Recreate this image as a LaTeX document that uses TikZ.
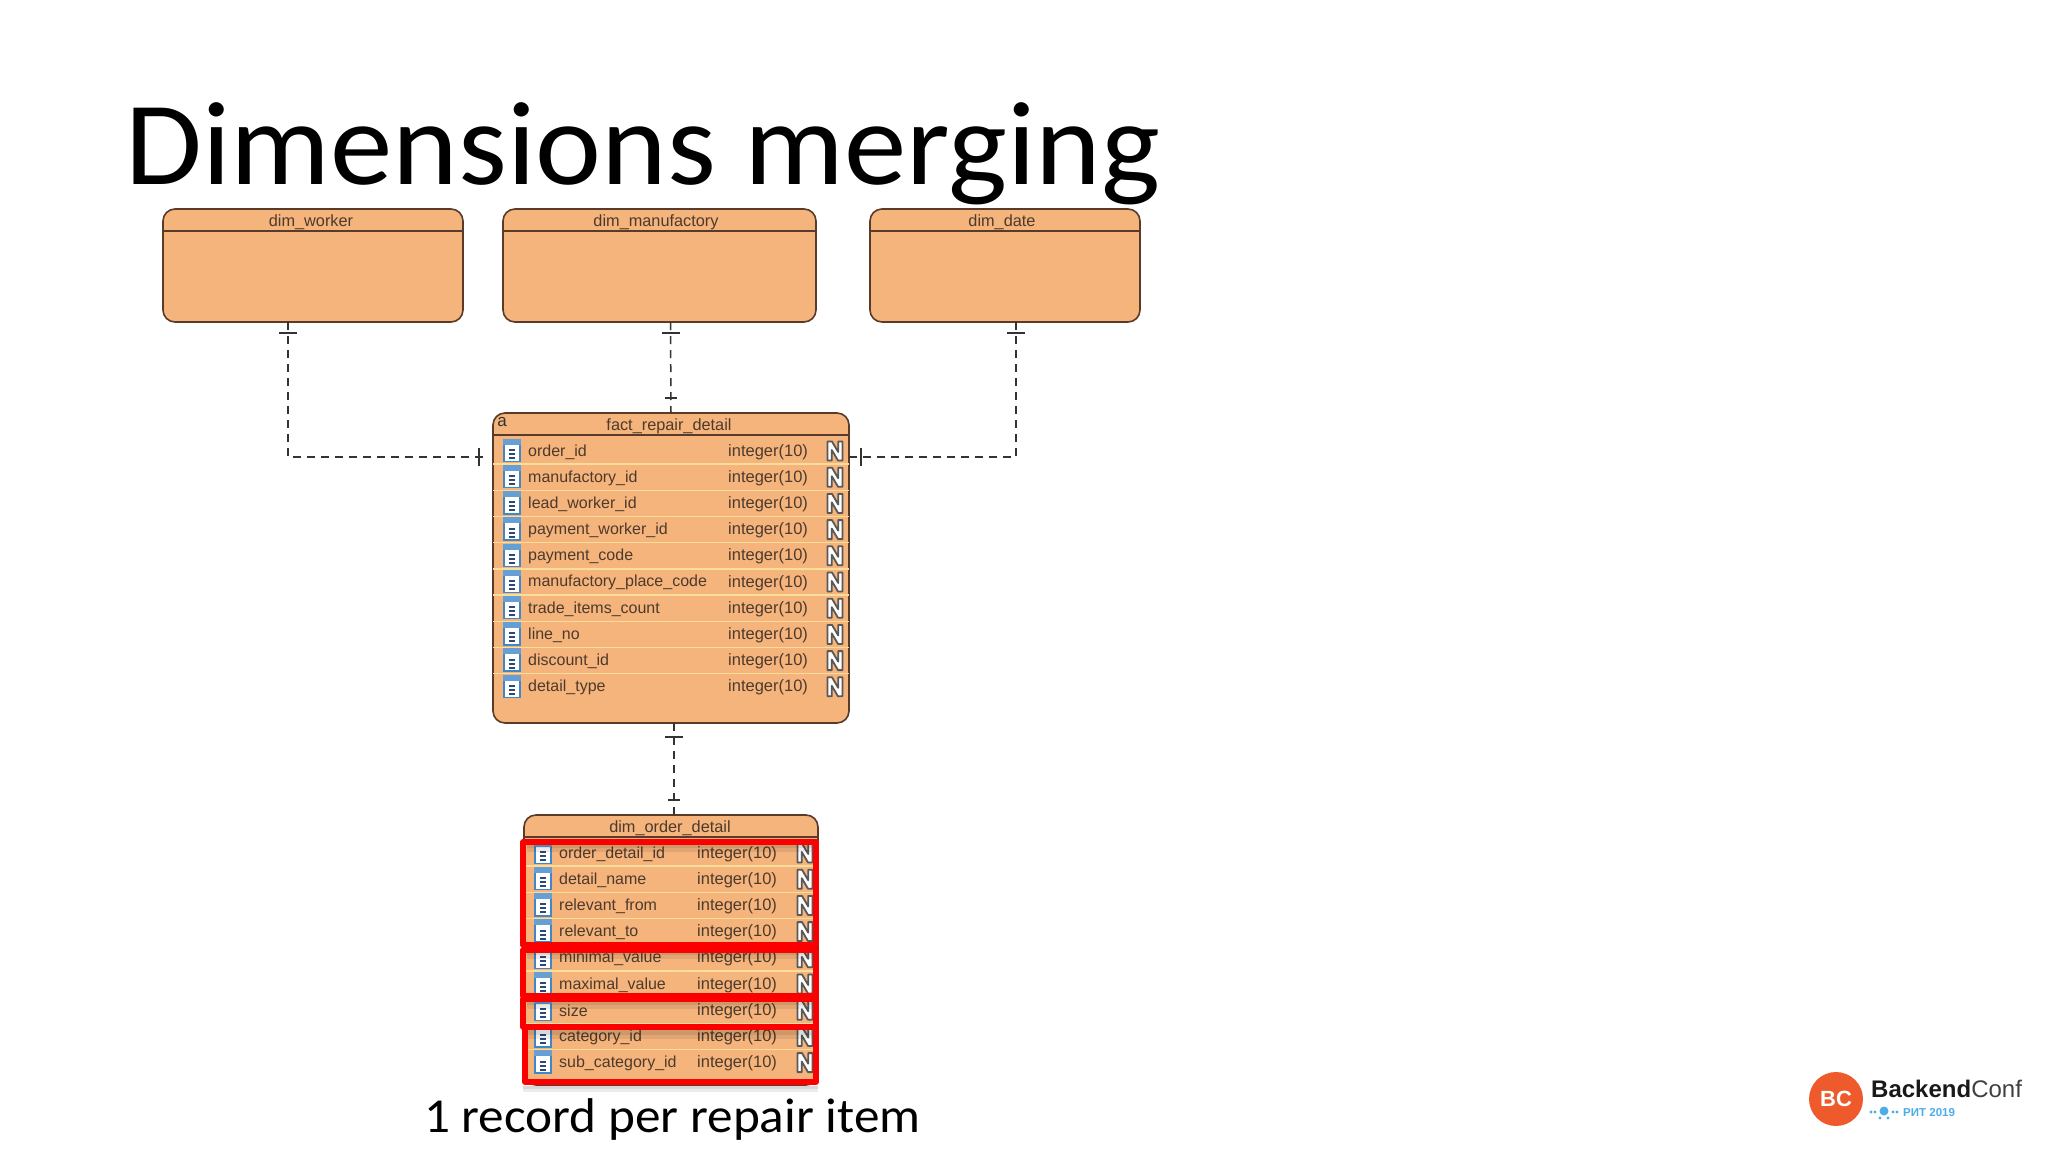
\documentclass[tikz,border=0pt]{standalone}
\usepackage{fontspec}
\setmainfont{Liberation Sans}
\newfontfamily\carl[FakeStretch=1.05]{Carlito}
\definecolor{boxfill}{HTML}{F4B47C}
\definecolor{boxline}{HTML}{5A3B2A}
\definecolor{rowsep}{HTML}{F9DD98}
\definecolor{boxtext}{HTML}{4E3A2C}
\definecolor{iconblue}{HTML}{3F87C9}
\definecolor{iconnavy}{HTML}{2C4A78}
\definecolor{redbox}{HTML}{FA0000}
\definecolor{logored}{HTML}{EE5A2B}
\definecolor{logoblue}{HTML}{4BAEE8}
\tikzset{
  tbl/.style={draw=boxline,fill=boxfill,line width=1.6pt,rounded corners=12pt,inner sep=0pt,outer sep=0pt},
  hdr/.style={font=\fontsize{16.3}{16.3}\selectfont,text=boxtext,inner sep=0pt},
  cell/.style={font=\fontsize{16}{16}\selectfont,text=boxtext,inner sep=0pt,anchor=west},
  typecell/.style={font=\fontsize{16.5}{16.5}\selectfont,text=boxtext,inner sep=0pt,anchor=west},
  conn/.style={draw=black!80,line width=1.5pt,dash pattern=on 8pt off 6pt},
  tick/.style={draw=black!80,line width=1.5pt},
  redrect/.style={draw=redbox,line width=5.5pt,line join=round},
  shade/.style={fill=black,opacity=0.08,draw=none},
  sepline/.style={draw=rowsep,line width=1.5pt}
}
\newcommand{\colicon}[3]{%
  \node[draw=iconblue,fill=white,line width=1.4pt,minimum width=16pt,minimum height=22pt,inner sep=0pt] (#3) at (#1,#2) {};
  \fill[iconblue!80] (#3.north west) rectangle ([yshift=-6pt]#3.north east);
  \foreach \dd in {-1.5,2.5,6.5}{\fill[iconnavy] ([xshift=-3pt,yshift=-\dd pt]#3.center) rectangle ([xshift=3pt,yshift=-\dd pt-2pt]#3.center);}
}
\newcommand{\nicon}[2]{%
  \begin{scope}[shift={(#1,#2)}]
  \draw[draw=black!65,fill=white,line width=1.8pt,line join=round] (-7.5,9.5) -- (-7.5,-9.5) -- (-3,-9.5) -- (3.2,1) -- (3.2,-9.5) -- (7.5,-9.5) -- (7.5,9.5) -- (3,9.5) -- (-3.2,-1) -- (-3.2,9.5) -- cycle;
  \end{scope}
}
\begin{document}
\begin{tikzpicture}[x=1pt,y=-1pt]
\useasboundingbox (0,0) rectangle (2048,1152);
\fill[white] (0,0) rectangle (2048,1152);
% title
\node[anchor=base west,inner sep=0pt,font=\carl\fontsize{119}{119}\selectfont] (title) at (125,184) {Dimensions merging};
% top tables
\node[tbl,minimum width=300pt,minimum height=113pt] (dw) at (313,265.5) {};
\node[tbl,minimum width=313pt,minimum height=113pt] (dm) at (659.5,265.5) {};
\node[tbl,minimum width=270pt,minimum height=113pt] (dd) at (1005,265.5) {};
\foreach \t in {dw,dm,dd}{\draw[boxline,line width=1.4pt] (\t.west |- 0,231) -- (\t.east |- 0,231);}
\node[hdr] (dwl) at (311,222) {dim\_worker};
\node[hdr] (dml) at (656,222) {dim\_manufactory};
\node[hdr] (ddl) at (1002,222) {dim\_date};
% fact table
\node[tbl,minimum width=356pt,minimum height=310pt] (fact) at (671,568) {};
\draw[boxline,line width=1.4pt] (fact.west |- 0,435) -- (fact.east |- 0,435);
\node[hdr] (factl) at (669,426) {fact\_repair\_detail};
\node[hdr,text=black!80,font=\fontsize{17}{17}\selectfont] (facta) at (502,422) {a};
\foreach \n [count=\i] in {order\_id,manufactory\_id,lead\_worker\_id,payment\_worker\_id,payment\_code,manufactory\_place\_code,trade\_items\_count,line\_no,discount\_id,detail\_type}{
  \pgfmathsetmacro\yy{451+(\i-1)*26.2}
  \pgfmathsetmacro\ys{\yy+13.1}
  \pgfmathsetmacro\yt{\yy+0.8}
  \pgfmathsetmacro\yi{\yy-0.5}
  \ifnum\i<10 \draw[sepline] (fact.west |- 0,\ys) -- (fact.east |- 0,\ys);\fi
  \colicon{512}{\yi}{fi\i}
  \node[cell] (fn\i) at (528,\yt) {\n};
  \node[typecell] (ft\i) at (728,\yt) {integer(10)};
  \nicon{835}{\yy}
}
% order table
\node[tbl,minimum width=294pt,minimum height=270pt] (ord) at (671,950) {};
\draw[boxline,line width=1.4pt] (ord.west |- 0,837) -- (ord.east |- 0,837);
\node[hdr] (ordl) at (670,828) {dim\_order\_detail};
\foreach \n [count=\i] in {order\_detail\_id,detail\_name,relevant\_from,relevant\_to,minimal\_value,maximal\_value,size,category\_id,sub\_category\_id}{
  \pgfmathsetmacro\yy{853+(\i-1)*26.2}
  \pgfmathsetmacro\ys{\yy+13.1}
  \pgfmathsetmacro\yt{\yy+0.8}
  \pgfmathsetmacro\yi{\yy-0.5}
  \ifnum\i<9 \draw[sepline] (ord.west |- 0,\ys) -- (ord.east |- 0,\ys);\fi
  \colicon{543}{\yi}{oi\i}
  \node[cell] (on\i) at (559,\yt) {\n};
  \node[typecell] (ot\i) at (697,\yt) {integer(10)};
  \nicon{805}{\yy}
}
% soft shadows under the red frames
\foreach \a/\b in {843/848,843/852,950/955,950/959,1000/1005,1000/1009,1030/1035,1030/1039}{
  \fill[shade] (527,\a) rectangle (812,\b);
}
\foreach \a/\b in {1086/1089,1086/1092}{\fill[shade] (523,\a) rectangle (818,\b);}
% connectors
\draw[conn,shorten >=10pt] ([xshift=-25pt]dw.south) |- ([yshift=111pt]fact.west);
\draw[conn] ([xshift=11pt]dm.south) -- (fact.north);
\draw[conn] ([xshift=11pt]dd.south) |- ([yshift=111pt]fact.east);
\draw[conn] ([xshift=3pt]fact.south) -- ([xshift=3pt]ord.north);
% end marks
\draw[tick] (279,333) -- (297,333);
\draw[tick] (662,333) -- (680,333);
\draw[tick] (1007,333) -- (1025,333);
\draw[tick] (665,398) -- (677,398);
\draw[tick] (479,448) -- (479,466);
\draw[tick] (861,448) -- (861,466);
\draw[tick] (665,737) -- (683,737);
\draw[tick] (668,800) -- (680,800);
% red frames
\draw[redrect] (523,842) rectangle (816,945);
\draw[redrect] (523,950) rectangle (816,996);
\draw[redrect] (523,999) rectangle (816,1027);
\draw[redrect] (525,1027) rectangle (816,1082);
% caption
\node[anchor=base west,inner sep=0pt,font=\carl\fontsize{48.8}{48.8}\selectfont] (caption) at (424,1132) {1 record per repair item};
% logo
\node[circle,fill=logored,minimum size=54pt,inner sep=0pt,text=white,font=\bfseries\fontsize{22}{22}\selectfont] (bc) at (1836,1099) {BC};
\node[anchor=west,inner sep=0pt,font=\fontsize{24}{24}\selectfont,text=black!75] (brand) at (1871,1089) {\textbf{\textcolor{black!90}{Backend}}Conf};
\node[anchor=west,inner sep=0pt,font=\bfseries\fontsize{11.5}{11.5}\selectfont,text=logoblue] (year) at (1903,1113) {РИТ 2019};
\fill[logoblue] (1884,1111) circle (4.5pt);
\foreach \dx/\dy in {-9/1,-13/1,9/1,13/1,-4/7,4/7}{\fill[logoblue] ([shift={(\dx pt,-\dy pt)}]1884,1111) circle (1.6pt);}
\end{tikzpicture}
\end{document}
